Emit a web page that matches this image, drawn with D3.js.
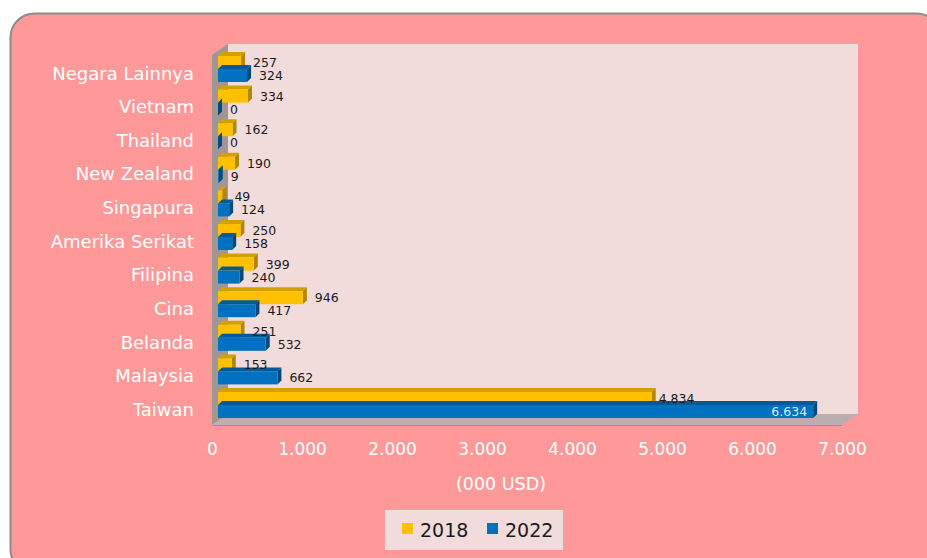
<!DOCTYPE html>
<html>
<head>
<meta charset="utf-8">
<script src="https://cdn.jsdelivr.net/npm/d3@7/dist/d3.min.js"></script>
<style>
  html, body { margin: 0; padding: 0; background: #ffffff; }
  svg { display: block; }
  text { font-family: "DejaVu Sans", Verdana, sans-serif; }
</style>
</head>
<body>
<svg id="chart" width="927" height="558"></svg>
<script>
// Export values by destination country, thousand USD
const countries = ["Negara Lainnya", "Vietnam", "Thailand", "New Zealand", "Singapura",
  "Amerika Serikat", "Filipina", "Cina", "Belanda", "Malaysia", "Taiwan"];
const values2018 = [257, 334, 162, 190, 49, 250, 399, 946, 251, 153, 4834];
const values2022 = [324, 0, 0, 9, 124, 158, 240, 417, 532, 662, 6634];
const seriesNames = ["2018", "2022"];
const xTicks = [0, 1000, 2000, 3000, 4000, 5000, 6000, 7000];
const axisTitle = "(000 USD)";

const series = [
  { name: seriesNames[0], values: values2018, front: "#FFC000", top: "#D4A000", side: "#B38600" },
  { name: seriesNames[1], values: values2022, front: "#0070C0", top: "#005A9A", side: "#004A80" }
];

const idLocale = d3.formatLocale({ decimal: ",", thousands: ".", grouping: [3], currency: ["", ""] });
const fmt = idLocale.format(",");

const svg = d3.select("#chart");

// Outer rounded panel
svg.append("rect")
  .attr("x", 10.5).attr("y", 13.5)
  .attr("width", 930).attr("height", 560)
  .attr("rx", 24).attr("ry", 24)
  .attr("fill", "#FF9999")
  .attr("stroke", "#8C8C8C").attr("stroke-width", 2);

// 3D plot box: front plane and depth offset
const front = { left: 212, right: 842, top: 55, bottom: 425 };
const depth = { dx: 16, dy: -11 };

// Back wall
svg.append("rect")
  .attr("x", front.left + depth.dx).attr("y", front.top + depth.dy)
  .attr("width", front.right - front.left).attr("height", front.bottom - front.top)
  .attr("fill", "#F2DCDB");

// Left wall
svg.append("polygon")
  .attr("points", [
    [front.left, front.top],
    [front.left + depth.dx, front.top + depth.dy],
    [front.left + depth.dx, front.bottom + depth.dy],
    [front.left, front.bottom]
  ].map(p => p.join(",")).join(" "))
  .attr("fill", "#A09696");

// Floor
svg.append("polygon")
  .attr("points", [
    [front.left, front.bottom],
    [front.left + depth.dx, front.bottom + depth.dy],
    [front.right + depth.dx, front.bottom + depth.dy],
    [front.right, front.bottom]
  ].map(p => p.join(",")).join(" "))
  .attr("fill", "#BCAEAE");
svg.append("line")
  .attr("x1", front.left).attr("x2", front.right)
  .attr("y1", front.bottom + 0.5).attr("y2", front.bottom + 0.5)
  .attr("stroke", "#9A8E8E").attr("stroke-width", 1);

// Scales
const xAxisScale = d3.scaleLinear().domain([0, 7000]).range([front.left, front.right]);
// bars sit slightly inside the box depth
const barShift = { dx: 6, dy: -3.5 };
const xBar = d3.scaleLinear().domain([0, 7000]).range([front.left + barShift.dx, front.right + barShift.dx - 2]);

const yBand = d3.scaleBand().domain(countries)
  .range([front.top + barShift.dy + 0.7, front.bottom + barShift.dy + 0.3])
  .paddingInner(0.226).paddingOuter(0.113);
const ySeries = d3.scaleBand().domain(seriesNames).range([0, yBand.bandwidth()]);

const barDepth = 4;

// Bars (front face, top face, right face)
series.forEach(s => {
  const g = svg.append("g").attr("class", "series-" + s.name);
  countries.forEach((c, i) => {
    const v = s.values[i];
    const x0 = xBar(0), x1 = xBar(v);
    const y0 = yBand(c) + ySeries(s.name);
    const h = ySeries.bandwidth();
    // top face
    g.append("polygon")
      .attr("points", [[x0, y0], [x0 + barDepth, y0 - barDepth], [x1 + barDepth, y0 - barDepth], [x1, y0]]
        .map(p => p.join(",")).join(" "))
      .attr("fill", s.top);
    // right face
    g.append("polygon")
      .attr("points", [[x1, y0], [x1 + barDepth, y0 - barDepth], [x1 + barDepth, y0 + h - barDepth], [x1, y0 + h]]
        .map(p => p.join(",")).join(" "))
      .attr("fill", s.side);
    // front face
    g.append("rect")
      .attr("x", x0).attr("y", y0)
      .attr("width", Math.max(0, x1 - x0)).attr("height", h)
      .attr("fill", s.front);
  });
});

// Value labels
series.forEach(s => {
  countries.forEach((c, i) => {
    const v = s.values[i];
    const yc = yBand(c) + ySeries(s.name) + ySeries.bandwidth() / 2;
    const inside = v > 6000;
    const gap = v > 4000 ? 3 : 8;
    svg.append("text")
      .attr("x", inside ? xBar(v) - 6 : xBar(v) + barDepth + gap)
      .attr("y", yc)
      .attr("dy", "0.36em")
      .attr("text-anchor", inside ? "end" : "start")
      .attr("font-size", 12.5)
      .attr("fill", inside ? "#DDEBF7" : "#1A1A1A")
      .text(fmt(v));
  });
});

// Category axis
const yAxisScale = d3.scaleBand().domain(countries)
  .range([front.top + 2, front.bottom + 2]);
const yAxis = svg.append("g")
  .attr("transform", `translate(${front.left - 18},0)`)
  .call(d3.axisLeft(yAxisScale).tickSize(0).tickPadding(0));
yAxis.select(".domain").remove();
yAxis.selectAll("text")
  .attr("font-family", "DejaVu Sans, Verdana, sans-serif")
  .attr("font-size", 18)
  .attr("fill", "#FFFFFF");

// Value axis
const xAxis = svg.append("g")
  .attr("transform", `translate(0,${front.bottom + 18})`)
  .call(d3.axisBottom(xAxisScale).tickValues(xTicks).tickFormat(fmt).tickSize(0).tickPadding(0));
xAxis.select(".domain").remove();
xAxis.selectAll("text")
  .attr("font-family", "DejaVu Sans, Verdana, sans-serif")
  .attr("font-size", 17)
  .attr("fill", "#FFFFFF");

// Axis title
svg.append("text")
  .attr("x", (front.left + front.right) / 2 - 26)
  .attr("y", 484)
  .attr("dy", "0.35em")
  .attr("text-anchor", "middle")
  .attr("font-size", 17.5)
  .attr("fill", "#FFFFFF")
  .text(axisTitle);

// Legend
const legend = svg.append("g").attr("transform", "translate(385,510)");
legend.append("rect")
  .attr("width", 178).attr("height", 40)
  .attr("fill", "#F2DCDB");
series.forEach((s, i) => {
  const gx = 17 + i * 85;
  legend.append("rect")
    .attr("x", gx).attr("y", 13)
    .attr("width", 11).attr("height", 11)
    .attr("fill", s.front);
  legend.append("text")
    .attr("x", gx + 18).attr("y", 20)
    .attr("dy", "0.36em")
    .attr("font-size", 19)
    .attr("fill", "#1A1A1A")
    .text(s.name);
});
</script>
</body>
</html>
